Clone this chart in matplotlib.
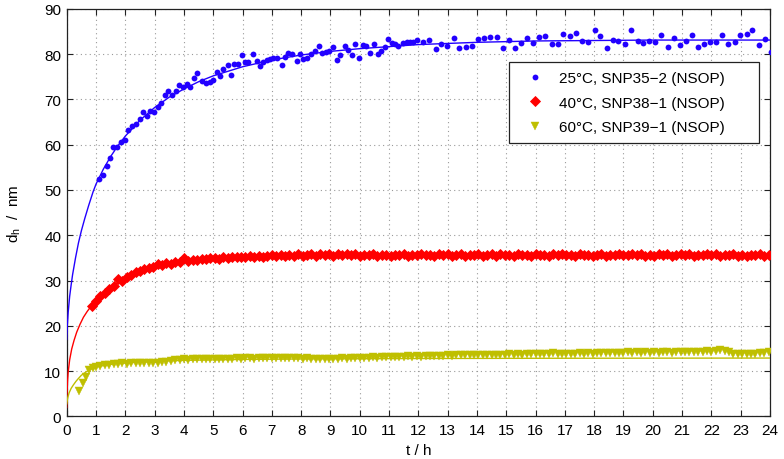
import matplotlib
matplotlib.use("Agg")
import matplotlib.pyplot as plt

plt.rcParams['font.family'] = ['Liberation Sans', 'DejaVu Sans']
plt.rcParams['mathtext.fontset'] = 'custom'
plt.rcParams['mathtext.rm'] = 'Liberation Sans'
plt.rcParams['mathtext.it'] = 'Liberation Sans:italic'

# ---------------- data ----------------
labels = ['25°C, SNP35\u22122 (NSOP)', '40°C, SNP38\u22121 (NSOP)', '60°C, SNP39\u22121 (NSOP)']

t_blue = [1.11, 1.23, 1.36, 1.48, 1.59, 1.73, 1.84, 1.99, 2.10, 2.22,
          2.36, 2.50, 2.61, 2.75, 2.84, 2.98, 3.10, 3.22, 3.35, 3.45,
          3.60, 3.72, 3.84, 3.96, 4.09, 4.21, 4.36, 4.46, 4.61, 4.74,
          4.89, 5.00, 5.12, 5.23, 5.35, 5.49, 5.61, 5.72, 5.83, 5.97,
          6.09, 6.20, 6.35, 6.48, 6.60, 6.71, 6.82, 6.94, 7.05, 7.17,
          7.34, 7.45, 7.56, 7.70, 7.85, 7.96, 8.08, 8.19, 8.34, 8.47,
          8.61, 8.72, 8.84, 8.95, 9.08, 9.21, 9.33, 9.48, 9.59, 9.73,
          9.84, 9.98, 10.10, 10.22, 10.35, 10.48, 10.61, 10.73, 10.86, 10.98,
          11.09, 11.20, 11.31, 11.46, 11.60, 11.71, 11.83, 11.96, 12.17, 12.37,
          12.60, 12.79, 12.99, 13.21, 13.40, 13.62, 13.82, 14.04, 14.24, 14.44,
          14.67, 14.88, 15.08, 15.30, 15.50, 15.72, 15.92, 16.13, 16.33, 16.55,
          16.75, 16.95, 17.17, 17.38, 17.58, 17.80, 18.03, 18.20, 18.43, 18.66,
          18.83, 19.06, 19.26, 19.49, 19.68, 19.88, 20.08, 20.29, 20.51, 20.71,
          20.93, 21.14, 21.33, 21.54, 21.76, 21.96, 22.16, 22.38, 22.58, 22.79,
          22.99, 23.20, 23.40, 23.61, 23.83, 24.04]
d_blue = [52.4, 53.3, 55.4, 57.0, 59.6, 59.6, 60.7, 61.1, 63.3, 64.1,
          64.6, 65.7, 67.2, 66.4, 67.5, 67.3, 68.4, 69.1, 71.0, 71.8,
          71.0, 71.9, 73.2, 72.7, 73.4, 72.8, 74.7, 75.8, 74.1, 73.6,
          73.8, 74.3, 76.0, 75.1, 76.7, 77.6, 75.4, 77.9, 77.9, 79.9,
          78.2, 78.2, 80.1, 78.5, 77.4, 78.3, 78.8, 79.0, 79.1, 79.1,
          77.6, 79.3, 80.3, 80.1, 78.5, 80.1, 79.0, 79.1, 80.0, 80.7,
          81.8, 80.3, 80.4, 80.6, 81.5, 78.8, 79.9, 81.8, 81.0, 79.9,
          82.2, 79.2, 82.0, 81.8, 80.2, 82.3, 80.1, 80.7, 81.5, 83.3,
          82.4, 82.2, 81.7, 82.4, 82.7, 82.7, 82.7, 83.1, 82.7, 83.2,
          81.1, 82.2, 81.7, 83.5, 81.3, 81.5, 81.8, 83.3, 83.5, 83.7,
          83.7, 81.3, 83.2, 81.3, 82.4, 83.5, 82.4, 83.7, 83.9, 82.2,
          82.2, 84.4, 83.9, 84.6, 83.0, 82.7, 85.4, 83.9, 81.3, 83.2,
          82.9, 82.2, 85.4, 82.9, 82.4, 82.9, 82.7, 84.2, 81.6, 83.5,
          82.0, 82.9, 84.3, 81.5, 82.2, 82.7, 82.7, 84.3, 82.2, 82.7,
          84.2, 84.4, 85.3, 82.0, 83.3, 80.5]

t_red = [0.85, 1.00, 1.15, 1.30, 1.45, 1.60, 1.75, 1.90, 2.05, 2.20,
         2.35, 2.50, 2.65, 2.80, 2.95, 3.10, 3.25, 3.40, 3.55, 3.70,
         3.85, 4.00, 4.15, 4.30, 4.45, 4.60, 4.75, 4.90, 5.05, 5.20,
         5.35, 5.50, 5.65, 5.80, 5.95, 6.10, 6.25, 6.40, 6.55, 6.70,
         6.85, 7.00, 7.15, 7.30, 7.45, 7.60, 7.75, 7.90, 8.05, 8.20,
         8.35, 8.50, 8.65, 8.80, 8.95, 9.10, 9.25, 9.40, 9.55, 9.70,
         9.85, 10.00, 10.15, 10.30, 10.45, 10.60, 10.75, 10.90, 11.05, 11.20,
         11.35, 11.50, 11.65, 11.80, 11.95, 12.10, 12.25, 12.40, 12.55, 12.70,
         12.85, 13.00, 13.15, 13.30, 13.45, 13.60, 13.75, 13.90, 14.05, 14.20,
         14.35, 14.50, 14.65, 14.80, 14.95, 15.10, 15.25, 15.40, 15.55, 15.70,
         15.85, 16.00, 16.15, 16.30, 16.45, 16.60, 16.75, 16.90, 17.05, 17.20,
         17.35, 17.50, 17.65, 17.80, 17.95, 18.10, 18.25, 18.40, 18.55, 18.70,
         18.85, 19.00, 19.15, 19.30, 19.45, 19.60, 19.75, 19.90, 20.05, 20.20,
         20.35, 20.50, 20.65, 20.80, 20.95, 21.10, 21.25, 21.40, 21.55, 21.70,
         21.85, 22.00, 22.15, 22.30, 22.45, 22.60, 22.75, 22.90, 23.05, 23.20,
         23.35, 23.50, 23.65, 23.80, 23.95]
d_red = [24.5, 25.6, 26.6, 27.3, 28.1, 28.9, 30.3, 30.0, 30.8, 31.3,
         31.8, 32.1, 32.5, 32.7, 33.0, 33.7, 33.4, 33.8, 33.6, 34.0,
         34.2, 35.0, 34.3, 34.5, 34.6, 34.8, 34.7, 34.9, 35.0, 34.8,
         35.1, 35.0, 35.2, 35.1, 35.3, 35.2, 35.4, 35.2, 35.5, 35.3,
         35.4, 35.6, 35.4, 35.7, 35.4, 35.6, 35.5, 35.8, 35.5, 35.7,
         35.9, 35.4, 35.8, 35.6, 35.9, 35.5, 35.8, 35.7, 35.9, 35.6,
         35.8, 35.5, 35.7, 35.6, 35.8, 35.5, 35.7, 35.6, 35.5, 35.7,
         35.6, 35.8, 35.5, 35.7, 35.6, 35.9, 35.6, 35.7, 35.5, 35.8,
         35.6, 35.9, 35.5, 35.7, 35.8, 35.4, 35.7, 35.6, 35.9, 35.5,
         35.7, 35.9, 35.5, 35.8, 35.6, 35.7, 35.4, 35.8, 35.6, 35.7,
         35.5, 35.8, 35.6, 35.7, 35.5, 35.8, 35.6, 35.9, 35.6, 35.7,
         35.5, 35.8, 35.6, 35.7, 35.4, 35.6, 35.8, 35.5, 35.7, 35.6,
         35.8, 35.6, 35.7, 35.9, 35.6, 35.8, 35.5, 35.7, 35.4, 35.9,
         35.6, 35.8, 35.5, 35.7, 35.9, 35.6, 35.8, 35.5, 35.7, 35.6,
         35.8, 35.6, 35.9, 35.5, 35.7, 35.6, 35.8, 35.4, 35.7, 35.5,
         35.7, 35.6, 35.8, 35.5, 35.7]

t_green = [0.41, 0.55, 0.66, 0.77, 0.88, 1.00,
           1.15, 1.30, 1.45, 1.60, 1.75, 1.90, 2.05, 2.20, 2.35, 2.50,
           2.65, 2.80, 2.95, 3.10, 3.25, 3.40, 3.55, 3.70, 3.85, 4.00,
           4.15, 4.30, 4.45, 4.60, 4.75, 4.90, 5.05, 5.20, 5.35, 5.50,
           5.65, 5.80, 5.95, 6.10, 6.25, 6.40, 6.55, 6.70, 6.85, 7.00,
           7.15, 7.30, 7.45, 7.60, 7.75, 7.90, 8.05, 8.20, 8.35, 8.50,
           8.65, 8.80, 8.95, 9.10, 9.25, 9.40, 9.55, 9.70, 9.85, 10.00,
           10.15, 10.30, 10.45, 10.60, 10.75, 10.90, 11.05, 11.20, 11.35, 11.50,
           11.65, 11.80, 11.95, 12.10, 12.25, 12.40, 12.55, 12.70, 12.85, 13.00,
           13.15, 13.30, 13.45, 13.60, 13.75, 13.90, 14.05, 14.20, 14.35, 14.50,
           14.65, 14.80, 14.95, 15.10, 15.25, 15.40, 15.55, 15.70, 15.85, 16.00,
           16.15, 16.30, 16.45, 16.60, 16.75, 16.90, 17.05, 17.20, 17.35, 17.50,
           17.65, 17.80, 17.95, 18.10, 18.25, 18.40, 18.55, 18.70, 18.85, 19.00,
           19.15, 19.30, 19.45, 19.60, 19.75, 19.90, 20.05, 20.20, 20.35, 20.50,
           20.65, 20.80, 20.95, 21.10, 21.25, 21.40, 21.55, 21.70, 21.85, 22.00,
           22.15, 22.30, 22.45, 22.60, 22.75, 22.90, 23.05, 23.20, 23.35, 23.50,
           23.65, 23.80, 23.95]
d_green = [5.6, 7.5, 8.7, 10.2, 10.6, 10.9,
           11.1, 11.3, 11.4, 11.5, 11.6, 11.9, 11.6, 11.7, 11.7, 11.8,
           11.7, 11.8, 11.9, 11.8, 12.0, 12.1, 12.2, 12.4, 12.5, 12.6,
           12.5, 12.6, 12.6, 12.7, 12.6, 12.7, 12.7, 12.8, 12.7, 12.8,
           12.8, 12.9, 12.8, 12.9, 12.9, 12.8, 12.9, 13.0, 12.9, 12.9,
           13.0, 12.9, 13.0, 12.9, 13.0, 12.9, 12.8, 12.9, 12.8, 12.8,
           12.7, 12.8, 12.7, 12.8, 12.8, 12.9, 12.8, 12.9, 13.0, 12.9,
           13.0, 13.0, 13.1, 13.0, 13.1, 13.1, 13.2, 13.1, 13.2, 13.2,
           13.3, 13.2, 13.3, 13.2, 13.3, 13.3, 13.4, 13.3, 13.4, 13.5,
           13.4, 13.5, 13.5, 13.6, 13.5, 13.6, 13.6, 13.5, 13.6, 13.6,
           13.5, 13.6, 13.6, 13.7, 13.6, 13.7, 13.6, 13.7, 13.8, 13.7,
           13.8, 13.7, 13.9, 14.0, 13.8, 13.9, 13.8, 13.9, 13.9, 14.0,
           13.9, 14.0, 13.9, 14.0, 14.0, 14.1, 14.0, 14.1, 14.0, 14.1,
           14.2, 14.1, 14.2, 14.1, 14.2, 14.1, 14.2, 14.1, 14.2, 14.2,
           14.1, 14.2, 14.3, 14.2, 14.3, 14.2, 14.3, 14.3, 14.4, 14.3,
           14.5, 14.6, 14.5, 14.3, 13.9, 13.8, 13.8, 13.9, 13.8, 13.9,
           14.0, 14.1, 14.3]

# fitted curves
tf_blue = [0.0, 0.02, 0.05, 0.1, 0.15, 0.2, 0.3, 0.4, 0.5, 0.62, 0.75, 0.9, 1.0, 1.25, 1.5,
           1.75, 2.0, 2.5, 3.0, 3.5, 4.0, 4.5, 5.0, 6.0, 7.0, 8.0, 9.0, 10.0, 12.0, 14.0,
           16.0, 18.0, 20.0, 22.0, 24.0]
df_blue = [17.0, 20.0, 23.0, 26.5, 29.0, 31.3, 35.0, 38.3, 41.0, 43.8, 46.6, 49.6, 51.3, 54.6, 57.4,
           59.8, 61.9, 65.4, 68.2, 70.5, 72.3, 73.9, 75.2, 77.2, 78.7, 79.8, 80.6, 81.2, 82.1, 82.6,
           82.9, 83.0, 83.1, 83.1, 83.1]
tf_red = [0.0, 0.01, 0.03, 0.05, 0.1, 0.17, 0.25, 0.34, 0.45, 0.57, 0.7, 0.85, 1.0, 1.25, 1.5,
          2.0, 2.5, 3.0, 3.5, 4.0, 5.0, 6.0, 8.0, 10.0, 14.0, 24.0]
df_red = [2.0, 5.0, 8.0, 9.8, 12.5, 14.9, 16.8, 18.6, 20.3, 21.9, 23.2, 24.5, 25.6, 27.2, 28.5,
          30.5, 31.9, 32.9, 33.6, 34.1, 34.7, 35.1, 35.4, 35.6, 35.7, 35.8]
tf_green = [0.0, 0.03, 0.08, 0.15, 0.23, 0.32, 0.4, 0.5, 0.65, 0.8, 1.0, 1.3, 1.6, 2.0, 3.0,
            4.0, 6.0, 8.0, 12.0, 16.0, 24.0]
df_green = [2.8, 4.0, 5.2, 6.2, 7.0, 7.8, 8.4, 9.1, 9.8, 10.4, 10.9, 11.3, 11.6, 11.8, 12.2,
            12.4, 12.6, 12.7, 12.8, 12.85, 12.9]

x_ticks = list(range(0, 25))
y_ticks = list(range(0, 91, 10))

c_blue = '#2200ff'
c_red = '#ff0000'
c_green = '#bfbf00'

# ---------------- figure ----------------
fig = plt.figure(figsize=(7.84, 4.60), dpi=100)
ax = fig.add_axes([0.0851, 0.0924, 0.897, 0.8863])

ax.plot(tf_blue, df_blue, '-', color=c_blue, lw=1.0, zorder=3)
ax.plot(tf_red, df_red, '-', color=c_red, lw=1.0, zorder=3)
ax.plot(tf_green, df_green, '-', color=c_green, lw=1.0, zorder=3)

ax.plot(t_blue, d_blue, 'o', color=c_blue, ms=4.2, mec='none', label=labels[0], zorder=4)
ax.plot(t_red, d_red, 'D', color=c_red, ms=4.6, mec=c_red, mew=0.6, label=labels[1], zorder=4)
ax.plot(t_green, d_green, 'v', color=c_green, ms=5.4, mec=c_green, mew=0.3, label=labels[2], zorder=4)

ax.set_xlim(0, 24)
ax.set_ylim(0, 90)
ax.set_xticks(x_ticks)
ax.set_yticks(y_ticks)
ax.tick_params(direction='in', top=True, right=True, length=4, width=0.8,
               labelsize=11, color='#222222')
ax.tick_params(axis='x', pad=5)
ax.tick_params(axis='y', pad=4)
ax.grid(True, color='#9a9a9a', linestyle=(0, (1, 3)), linewidth=0.8)
ax.set_axisbelow(True)
for s in ax.spines.values():
    s.set_linewidth(0.9)
    s.set_color('#222222')

ax.set_xlabel('t / h', fontsize=11)
ax.xaxis.label.set_va('center')
ax.xaxis.set_label_coords(0.5, -0.0814)
ax.set_ylabel(r'd$_{\mathrm{h}}$  /  nm', fontsize=11)
ax.yaxis.label.set_va('center')
ax.yaxis.set_label_coords(-0.074, 0.5)

leg = ax.legend(loc='upper left', bbox_to_anchor=(0.629, 0.675, 0.355, 0.194), mode='expand',
                fontsize=11, frameon=True, fancybox=False, edgecolor='#222222',
                borderaxespad=0, borderpad=0.6, handlelength=2.2, handletextpad=0.5,
                labelspacing=0.68, numpoints=1)
leg.get_frame().set_linewidth(0.9)
leg.get_frame().set_alpha(1)

fig.savefig('out.png', dpi=100)
